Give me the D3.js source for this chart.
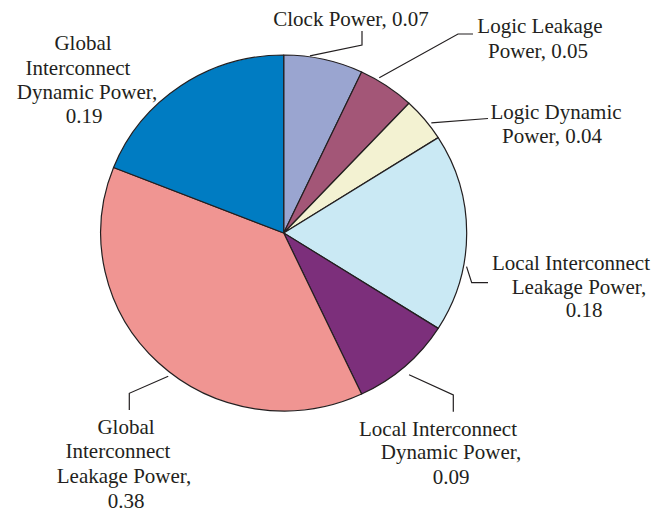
<!DOCTYPE html>
<html>
<head>
<meta charset="utf-8">
<script src="https://cdn.jsdelivr.net/npm/d3@7"></script>
<style>
  html, body { margin: 0; padding: 0; background: #ffffff; }
  svg { display: block; }
</style>
</head>
<body>
<svg id="chart" width="652" height="514"></svg>
<script>
// Power breakdown, fractions of total
const categories = [
  "Clock Power",
  "Logic Leakage Power",
  "Logic Dynamic Power",
  "Local Interconnect Leakage Power",
  "Local Interconnect Dynamic Power",
  "Global Interconnect Leakage Power",
  "Global Interconnect Dynamic Power"
];
const values = [0.07, 0.05, 0.04, 0.18, 0.09, 0.38, 0.19];
const colors = ["#9aa5d0", "#a35677", "#f3f2d2", "#cae9f4", "#7c2f7b", "#f09592", "#007cc2"];

// Label text lines; "{v}" is replaced by the slice value
const labelLines = [
  ["Clock Power, {v}"],
  ["Logic Leakage", "Power, {v}"],
  ["Logic Dynamic", "Power, {v}"],
  ["Local Interconnect", "Leakage Power,", "{v}"],
  ["Local Interconnect", "Dynamic Power,", "{v}"],
  ["Global", "Interconnect", "Leakage Power,", "{v}"],
  ["Global", "Interconnect", "Dynamic Power,", "{v}"]
];

// Label placement: per-line centre x and baseline y
const labelX = [
  [351],
  [540, 538],
  [556, 552],
  [571, 579, 584],
  [438, 451, 451],
  [126, 118, 124, 126],
  [83, 78, 87, 84]
];
const labelY = [
  [26],
  [33, 58],
  [119, 143],
  [270, 294, 317],
  [436, 459, 484],
  [434, 458, 483, 508],
  [50, 75, 99, 123]
];

// Leader lines: start angle (deg, clockwise from top) and radius on the pie, then bend/end points
const leaderAngle = [8.2, 30.9, 52.5, 100.7, 139.3, 218.1, null];
const leaderRadius = [179, 181, 181, 181, 187, 182, null];
const leaderPoints = [
  [[362, 45], [362, 31]],
  [[458, 34], [473, 34]],
  [[488, 118.5]],
  [[471.7, 282.7], [488, 282.7]],
  [[453.3, 395], [453.3, 411.7]],
  [[129.3, 393.3], [129.3, 410]],
  null
];

const cx = 283.7, cy = 233, r = 178;
const sx = 183 / 178; // slight horizontal stretch of the pie

const svg = d3.select("#chart");
const fmt = d3.format(".2f");

const pie = d3.pie().sort(null).value(d => d)(values);
const arc = d3.arc().innerRadius(0).outerRadius(r);

const g = svg.append("g")
  .attr("transform", `translate(${cx},${cy}) scale(${sx},1)`);

g.selectAll("path.slice")
  .data(pie)
  .join("path")
  .attr("class", "slice")
  .attr("d", arc)
  .attr("fill", (d, i) => colors[i])
  .attr("stroke", "#231f20")
  .attr("stroke-width", 1.2)
  .attr("stroke-linejoin", "round")
  .attr("vector-effect", "non-scaling-stroke");

// Leader lines
const line = d3.line();
leaderAngle.forEach((a, i) => {
  if (a === null) return;
  const rad = a * Math.PI / 180;
  const start = [cx + sx * leaderRadius[i] * Math.sin(rad), cy - leaderRadius[i] * Math.cos(rad)];
  svg.append("path")
    .attr("d", line([start, ...leaderPoints[i]]))
    .attr("fill", "none")
    .attr("stroke", "#231f20")
    .attr("stroke-width", 1.2);
});

// Labels
labelLines.forEach((lines, i) => {
  const t = svg.append("text")
    .attr("text-anchor", "middle")
    .attr("font-family", "'Liberation Serif', 'DejaVu Serif', serif")
    .attr("font-size", 21)
    .attr("fill", "#231f20");
  lines.forEach((s, j) => {
    t.append("tspan")
      .attr("x", labelX[i][j])
      .attr("y", labelY[i][j])
      .text(s.replace("{v}", fmt(values[i])));
  });
});
</script>
</body>
</html>
